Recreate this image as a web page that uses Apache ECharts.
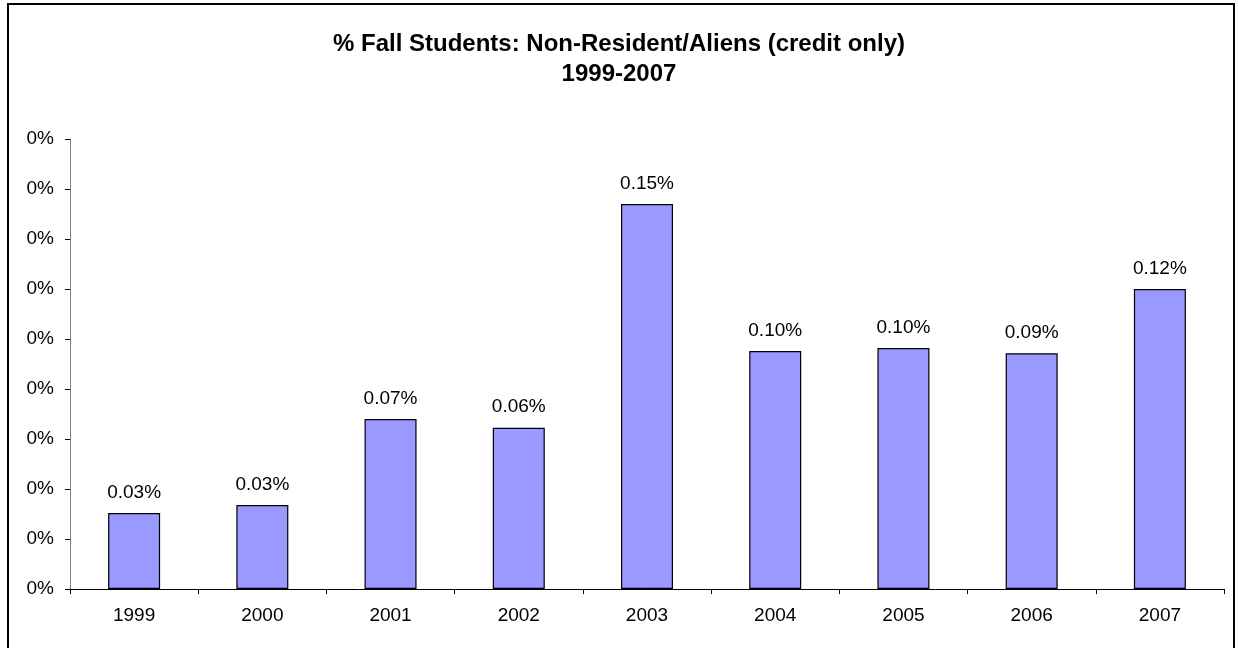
<!DOCTYPE html>
<html>
<head>
<meta charset="utf-8">
<script src="https://cdn.jsdelivr.net/npm/echarts@6/dist/echarts.min.js"></script>
<style>
html,body{margin:0;padding:0;background:#fff;}
#chart{width:1238px;height:648px;}
</style>
</head>
<body>
<div id="chart"></div>
<script>
const categories = ['1999','2000','2001','2002','2003','2004','2005','2006','2007'];
const values = [0.0304, 0.0336, 0.068, 0.0645, 0.154, 0.0952, 0.0964, 0.0943, 0.120];
const titleLines = ['% Fall Students: Non-Resident/Aliens (credit only)', '1999-2007'];

const chart = echarts.init(document.getElementById('chart'), null, {renderer: 'canvas'});
const font = 'Liberation Sans, Arial, sans-serif';
chart.setOption({
  animation: false,
  backgroundColor: '#ffffff',
  title: {
    text: titleLines.join('\n'),
    left: 'center',
    top: 24,
    textStyle: {fontFamily: font, fontWeight: 'bold', fontSize: 24, color: '#000', lineHeight: 30}
  },
  graphic: [{
    type: 'rect',
    shape: {x: 8, y: 4, width: 1226, height: 680},
    style: {fill: 'none', stroke: '#000', lineWidth: 2},
    silent: true
  }],
  grid: {left: 70, right: 14, top: 139, bottom: 59, containLabel: false},
  xAxis: {
    type: 'category',
    data: categories,
    axisLine: {lineStyle: {color: '#000', width: 1}},
    axisTick: {show: true, alignWithLabel: false, length: 5, lineStyle: {color: '#000'}},
    axisLabel: {fontFamily: font, fontSize: 19, color: '#000', margin: 17},
    splitLine: {show: false}
  },
  yAxis: {
    type: 'value',
    min: 0,
    max: 0.18,
    interval: 0.02,
    axisLine: {show: true, lineStyle: {color: '#808080', width: 1}},
    axisTick: {show: true, length: 5, lineStyle: {color: '#000'}},
    axisLabel: {fontFamily: font, fontSize: 19, color: '#000', margin: 16,
      formatter: v => Math.round(v) + '%'},
    splitLine: {show: false}
  },
  series: [{
    type: 'bar',
    data: values,
    barWidth: 52,
    itemStyle: {color: '#9999ff', borderColor: '#000', borderWidth: 1.2},
    label: {
      show: true,
      position: 'top',
      distance: 11,
      fontFamily: font,
      fontSize: 19,
      color: '#000',
      formatter: p => p.value.toFixed(2) + '%'
    }
  }]
});
</script>
</body>
</html>
